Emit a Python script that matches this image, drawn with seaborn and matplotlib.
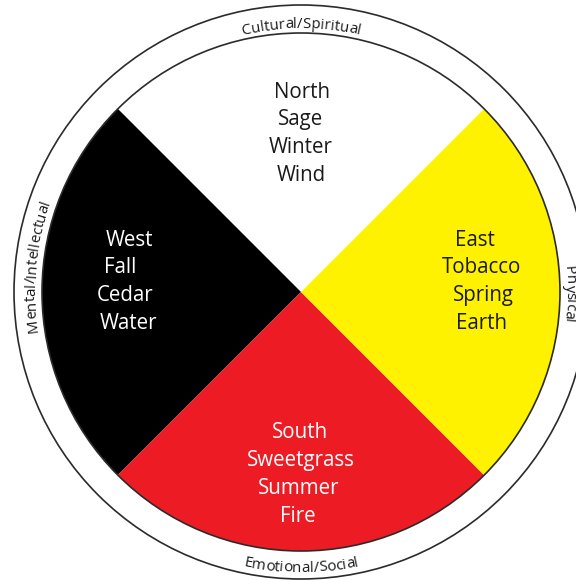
import numpy as np
import matplotlib
matplotlib.use("Agg")
import matplotlib.pyplot as plt
import seaborn as sns
from matplotlib.patches import Circle
from matplotlib.font_manager import FontProperties, findfont, get_font

# quadrant data, counter-clockwise from the top (North)
quadrants = ["North", "West", "South", "East"]
shares = [1, 1, 1, 1]
quadrant_colors = ["#FFFFFF", "#000000", "#ED1C24", "#FFF200"]
text_colors = ["#1A1A1A", "#FFFFFF", "#FFFFFF", "#1A1A1A"]

north_lines = ["North", "Sage", "Winter", "Wind"]
west_lines = ["West", "Fall", "Cedar", "Water"]
south_lines = ["South", "Sweetgrass", "Summer", "Fire"]
east_lines = ["East", "Tobacco", "Spring", "Earth"]

ring_labels = ["Cultural/Spiritual", "Mental/Intellectual", "Emotional/Social", "Physical"]

# layout (pixel coords, y measured from the top of the image)
W, H = 576, 580
cx, cy = 301, H - 292
r_inner = 259
r_outer = 287

# x centre of each line and y of the first line
line_x = {
    "North": [302, 301, 301, 301],
    "West": [129, 120, 125, 128],
    "South": [300, 301, 299, 298],
    "East": [475, 482, 483, 482],
}
first_y = {"North": 92, "West": 240, "South": 433, "East": 240}
line_gap = 27.8

sns.set_theme(style="white")
plt.rcParams["font.family"] = ["Open Sans", "DejaVu Sans"]

fig = plt.figure(figsize=(W / 100, H / 100), dpi=100)
ax = fig.add_axes([0, 0, 1, 1])

ax.pie(shares, colors=quadrant_colors, startangle=45, counterclock=True,
       center=(cx, cy), radius=r_inner, frame=True,
       wedgeprops=dict(linewidth=0, antialiased=True))

ax.add_patch(Circle((cx, cy), r_inner, fill=False, ec="#2b2b2b", lw=1.2))
ax.add_patch(Circle((cx, cy), r_outer, fill=False, ec="#2b2b2b", lw=1.2))

all_lines = {"North": north_lines, "West": west_lines,
             "South": south_lines, "East": east_lines}
for q, tc in zip(quadrants, text_colors):
    for i, (s, x) in enumerate(zip(all_lines[q], line_x[q])):
        y = H - (first_y[q] + i * line_gap)
        ax.text(x, y, s, ha="center", va="center", fontsize=14.8,
                color=tc, family="Open Sans")

ring_size = 10.8
ring_fp = FontProperties(family="Open Sans", size=ring_size)
ring_font = get_font(findfont(ring_fp))
ring_font.set_size(ring_size, 100)  # advances in pixels at 100 dpi


def advance(ch):
    g = ring_font.load_char(ord(ch))
    return g.linearHoriAdvance / 65536


def arc_text(s, angle, radius, clockwise=True):
    widths = np.concatenate([[0.0], np.cumsum([advance(c) for c in s])])
    total = widths[-1]
    for i, ch in enumerate(s):
        mid = (widths[i] + widths[i + 1]) / 2 - total / 2
        d = np.degrees(mid / radius)
        if clockwise:
            th = angle - d
            rot = th - 90
        else:
            th = angle + d
            rot = th + 90
        x = cx + radius * np.cos(np.radians(th))
        y = cy + radius * np.sin(np.radians(th))
        ax.text(x, y, ch, rotation=rot, rotation_mode="anchor",
                ha="center", va="baseline", fontproperties=ring_fp,
                color="#1A1A1A")


arc_text(ring_labels[0], 90, 264)
arc_text(ring_labels[1], 174.5, 266)
arc_text(ring_labels[2], 270, 280, clockwise=False)
arc_text(ring_labels[3], -0.5, 265)

ax.set_xlim(0, W)
ax.set_ylim(0, H)
ax.set_aspect("equal")
ax.axis("off")

fig.savefig("out.png", dpi=100, facecolor="white")
